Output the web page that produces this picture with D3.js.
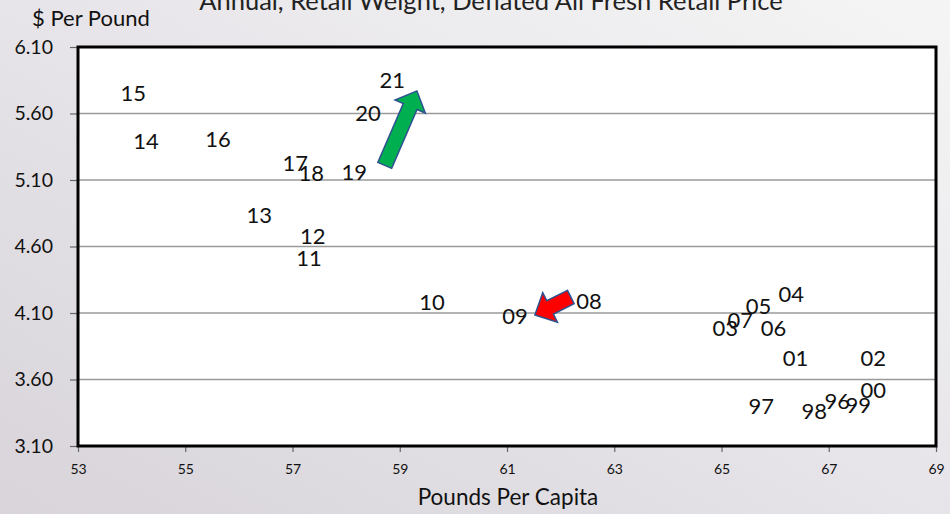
<!DOCTYPE html>
<html>
<head>
<meta charset="utf-8">
<script src="https://cdn.jsdelivr.net/npm/d3@7"></script>
<style>
  html, body { margin: 0; padding: 0; }
  body { width: 950px; height: 514px; overflow: hidden; font-family: Lato, "Open Sans", sans-serif; }
</style>
</head>
<body>
<svg id="chart" width="950" height="514"></svg>
<script>
// year labels with per-capita pounds (x) and deflated $/lb (y)
const years = ["96","97","98","99","00","01","02","03","04","05","06","07","08","09","10",
               "11","12","13","14","15","16","17","18","19","20","21"];
const pounds = [67.16, 65.74, 66.73, 67.55, 67.83, 66.38, 67.83, 65.07, 66.30, 65.69, 65.97, 65.35, 62.53, 61.15, 59.60,
                57.31, 57.38, 56.38, 54.27, 54.03, 55.61, 57.05, 57.35, 58.15, 58.41, 58.86];
const price = [3.44, 3.40, 3.36, 3.41, 3.52, 3.76, 3.76, 3.99, 4.24, 4.15, 3.99, 4.05, 4.19, 4.08, 4.18,
               4.51, 4.68, 4.84, 5.39, 5.75, 5.41, 5.23, 5.15, 5.16, 5.60, 5.85];

const xTicks = [53, 55, 57, 59, 61, 63, 65, 67, 69];
const yTicks = [3.10, 3.60, 4.10, 4.60, 5.10, 5.60, 6.10];

// annotation arrows: [fromX, fromY, toX, toY]
const arrowColors = ["#00b050", "#ff0000"];
const arrowFrom = [[58.72, 5.21], [62.19, 4.22]];
const arrowTo = [[59.32, 5.77], [61.52, 4.085]];

const svg = d3.select("#chart");
const W = 950, H = 514;
const m = { left: 78, right: 14, top: 47, bottom: 68 };

// background gradient
const defs = svg.append("defs");
const grad = defs.append("linearGradient").attr("id", "bg")
  .attr("x1", "0%").attr("y1", "100%").attr("x2", "100%").attr("y2", "0%");
grad.append("stop").attr("offset", "0%").attr("stop-color", "#d8d4da");
grad.append("stop").attr("offset", "55%").attr("stop-color", "#e8e6ea");
grad.append("stop").attr("offset", "100%").attr("stop-color", "#f5f5f5");
svg.append("rect").attr("width", W).attr("height", H).attr("fill", "url(#bg)");

const x = d3.scaleLinear().domain([53, 69]).range([m.left, W - m.right]);
const y = d3.scaleLinear().domain([3.10, 6.10]).range([H - m.bottom, m.top]);

// plot area
svg.append("rect")
  .attr("x", x(53)).attr("y", y(6.10))
  .attr("width", x(69) - x(53)).attr("height", y(3.10) - y(6.10))
  .attr("fill", "#fff");

// gridlines
svg.append("g").selectAll("line").data(yTicks.slice(1, -1)).join("line")
  .attr("x1", x(53)).attr("x2", x(69))
  .attr("y1", d => y(d)).attr("y2", d => y(d))
  .attr("stroke", "#9a9a9a").attr("stroke-width", 1.3);

// axes
const yAxis = svg.append("g").attr("transform", `translate(${x(53)},0)`)
  .call(d3.axisLeft(y).tickValues(yTicks).tickFormat(d3.format(".2f")).tickSize(8).tickPadding(17));
const xAxis = svg.append("g").attr("transform", `translate(0,${y(3.10)})`)
  .call(d3.axisBottom(x).tickValues(xTicks).tickSize(6).tickPadding(12));
[yAxis, xAxis].forEach(g => {
  g.select(".domain").remove();
  g.selectAll(".tick line").attr("stroke", "#666").attr("stroke-width", 1.2);
  g.selectAll("text").attr("fill", "#111").style("font-family", "Lato, sans-serif");
});
yAxis.selectAll("text").style("font-size", "19.5px");
xAxis.selectAll("text").style("font-size", "14px");

// frame
svg.append("rect")
  .attr("x", x(53)).attr("y", y(6.10))
  .attr("width", x(69) - x(53)).attr("height", y(3.10) - y(6.10))
  .attr("fill", "none").attr("stroke", "#000").attr("stroke-width", 3);

// year labels as the points
svg.append("g").selectAll("text").data(years).join("text")
  .attr("x", (d, i) => x(pounds[i]))
  .attr("y", (d, i) => y(price[i]))
  .attr("dy", "0.36em")
  .attr("text-anchor", "middle")
  .style("font-size", "22px")
  .attr("fill", "#111")
  .text(d => d);

// arrows
function arrowPath(p0, p1, shaft, head, headLen) {
  const dx = p1[0] - p0[0], dy = p1[1] - p0[1];
  const len = Math.hypot(dx, dy);
  const ux = dx / len, uy = dy / len, nx = -uy, ny = ux;
  const bx = p1[0] - ux * headLen, by = p1[1] - uy * headLen;
  const pts = [
    [p0[0] + nx * shaft / 2, p0[1] + ny * shaft / 2],
    [bx + nx * shaft / 2, by + ny * shaft / 2],
    [bx + nx * head / 2, by + ny * head / 2],
    p1,
    [bx - nx * head / 2, by - ny * head / 2],
    [bx - nx * shaft / 2, by - ny * shaft / 2],
    [p0[0] - nx * shaft / 2, p0[1] - ny * shaft / 2]
  ];
  return "M" + pts.map(p => p.join(",")).join("L") + "Z";
}
svg.append("g").selectAll("path").data(arrowColors).join("path")
  .attr("d", (d, i) => arrowPath(
    [x(arrowFrom[i][0]), y(arrowFrom[i][1])],
    [x(arrowTo[i][0]), y(arrowTo[i][1])], 15, 33, 17))
  .attr("fill", d => d)
  .attr("stroke", "#2f528f").attr("stroke-width", 1.5)
  .attr("stroke-linejoin", "miter");

// titles
svg.append("text").attr("x", 491).attr("y", 10).attr("text-anchor", "middle")
  .style("font-size", "25.5px").attr("fill", "#222")
  .text("Annual, Retail Weight, Deflated All Fresh Retail Price");
svg.append("text").attr("x", 32).attr("y", 26)
  .style("font-size", "22px").attr("fill", "#111")
  .text("$ Per Pound");
svg.append("text").attr("x", 508).attr("y", 505).attr("text-anchor", "middle")
  .style("font-size", "22.5px").attr("fill", "#111")
  .text("Pounds Per Capita");
</script>
</body>
</html>
